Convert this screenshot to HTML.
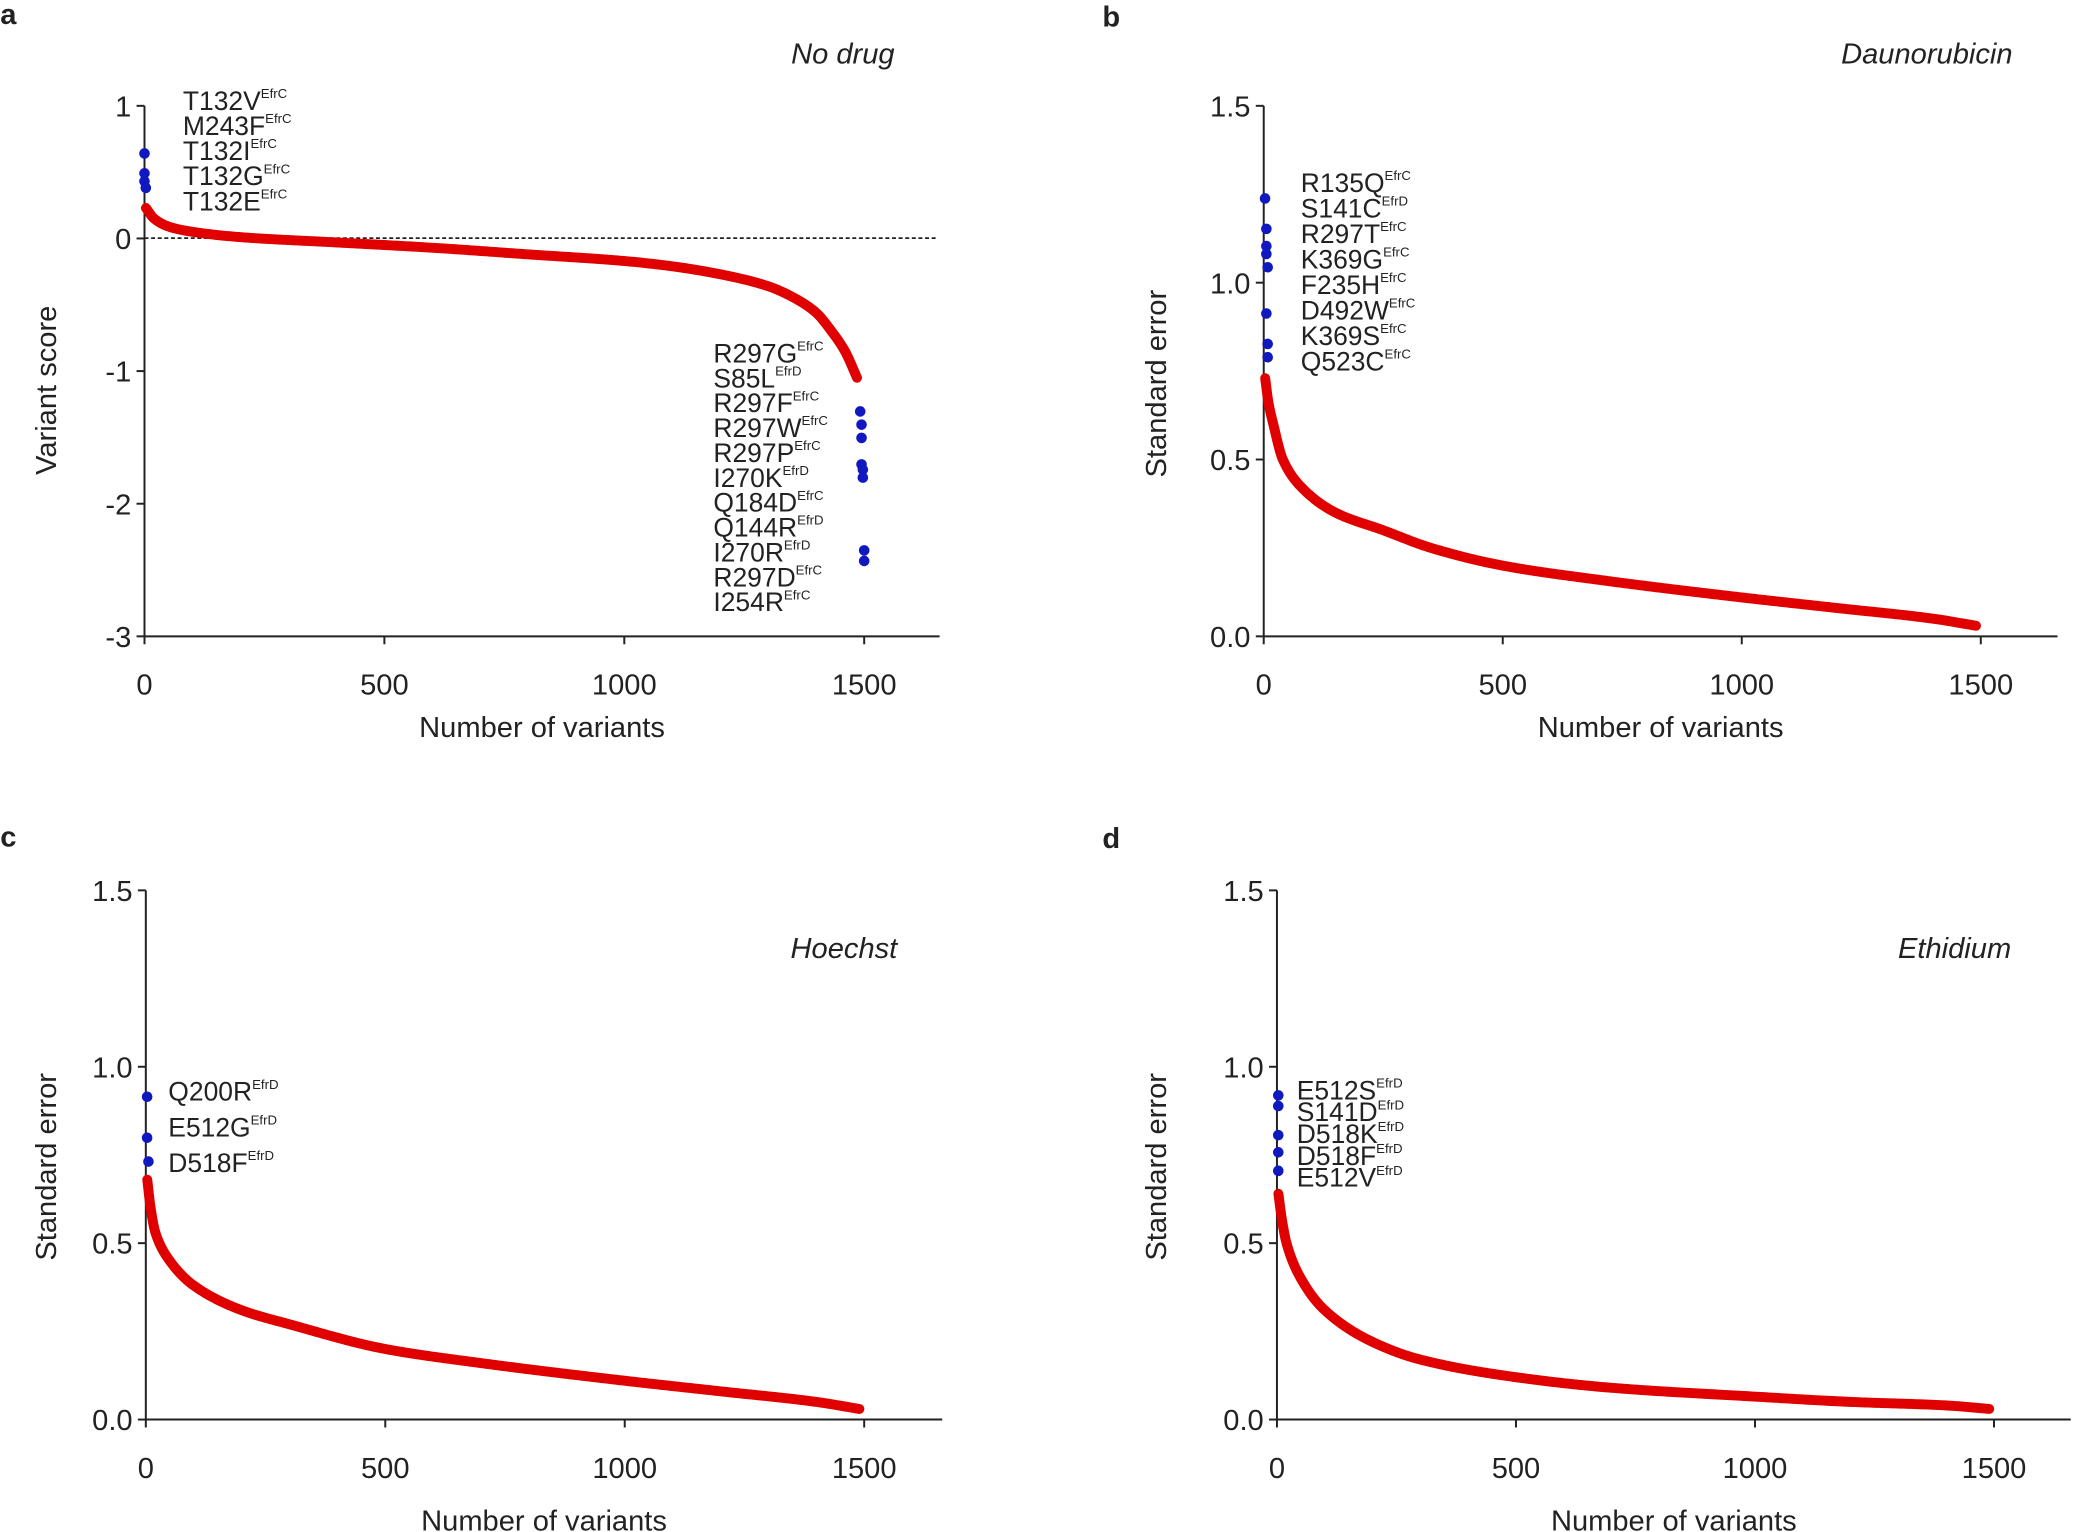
<!DOCTYPE html>
<html><head><meta charset="utf-8"><style>
html,body{margin:0;padding:0;background:#fff}
svg{display:block}
text{font-family:"Liberation Sans",Arial,sans-serif;fill:#222}
.t{font-size:22px}.l{font-size:20px}.s{font-size:10px}
.ti{font-size:22px;font-style:italic}
.p{font-size:22px;font-weight:bold}
</style></head><body>
<svg id="s" width="2075" height="1532" viewBox="0 0 1568 1158" xmlns="http://www.w3.org/2000/svg">
<text class="p" x="0" y="18">a</text>
<text class="p" x="833" y="20">b</text>
<text class="p" x="0" y="640">c</text>
<text class="p" x="833" y="641">d</text>
<text class="ti" x="676" y="48" text-anchor="end">No drug</text>
<text class="ti" x="1521" y="48" text-anchor="end">Daunorubicin</text>
<text class="ti" x="678" y="724" text-anchor="end">Hoechst</text>
<text class="ti" x="1520" y="724" text-anchor="end">Ethidium</text>
<line x1="109" y1="180" x2="708" y2="180" stroke="#222" stroke-width="1.3" stroke-dasharray="3,2"/>
<g id="g"></g>
</svg>
<script>
const NS="http://www.w3.org/2000/svg",g=document.getElementById('g');
function el(t,a,txt){const e=document.createElementNS(NS,t);for(const k in a)e.setAttribute(k,a[k]);if(txt!==undefined)e.textContent=txt;g.appendChild(e);return e;}
function mono(c){const n=c.length,xs=c.map(p=>p[0]),ys=c.map(p=>p[1]);const d=[],m=[];
 for(let i=0;i<n-1;i++)d.push((ys[i+1]-ys[i])/(xs[i+1]-xs[i]));
 m[0]=d[0];m[n-1]=d[n-2];
 for(let i=1;i<n-1;i++){if(d[i-1]*d[i]<=0)m[i]=0;else{const w1=2*(xs[i+1]-xs[i])+(xs[i]-xs[i-1]),w2=(xs[i+1]-xs[i])+2*(xs[i]-xs[i-1]);m[i]=(w1+w2)/(w1/d[i-1]+w2/d[i]);}}
 return x=>{let i=0;while(i<n-2&&x>xs[i+1])i++;const h=xs[i+1]-xs[i],t=(x-xs[i])/h;
  const h00=2*t*t*t-3*t*t+1,h10=t*t*t-2*t*t+t,h01=-2*t*t*t+3*t*t,h11=t*t*t-t*t;
  return h00*ys[i]+h10*h*m[i]+h01*ys[i+1]+h11*h*m[i+1];};}
function panel(P){
 const X=i=>P.x0+(P.x15-P.x0)*i/1500, Y=v=>P.yb+(P.yt-P.yb)*(v-P.vmin)/(P.vmax-P.vmin);
 el('line',{x1:P.x0,y1:P.yt,x2:P.x0,y2:P.yb,stroke:'#222','stroke-width':1.5});
 el('line',{x1:P.x0,y1:P.yb,x2:P.xe,y2:P.yb,stroke:'#222','stroke-width':1.5});
 P.yt_.forEach(v=>{const y=Y(v);el('line',{x1:P.x0-6,y1:y,x2:P.x0,y2:y,stroke:'#222','stroke-width':1.5});
  el('text',{class:'t',x:P.x0-10,y:y+8,'text-anchor':'end'},P.fmt(v));});
 [0,500,1000,1500].forEach(i=>{const x=X(i);el('line',{x1:x,y1:P.yb,x2:x,y2:P.yb+6,stroke:'#222','stroke-width':1.5});
  el('text',{class:'t',x:x,y:P.yb+44,'text-anchor':'middle'},String(i));});
 el('text',{class:'t',x:(P.x0+P.xe)/2,y:P.xty,'text-anchor':'middle'},'Number of variants');
 el('text',{class:'t',x:0,y:0,'text-anchor':'middle',transform:`translate(${P.ytx},${P.yty}) rotate(-90)`},P.ylab);
 const c=P.curve,f=mono(c),a=c[0][0],b=c[c.length-1][0];let pts=[];
 for(let s=0;s<=400;s++){const i=a+(b-a)*Math.pow(s/400,1.6);pts.push(X(i).toFixed(2)+','+Y(f(i)).toFixed(2));}
 el('polyline',{points:pts.join(' '),fill:'none',stroke:'#e00000','stroke-width':7.5,'stroke-linecap':'round','stroke-linejoin':'round'});
 P.blue.forEach(([x,y])=>el('circle',{cx:x,cy:y,r:4,fill:'#1018c0'}));
 P.labs.forEach(L=>{L.n.forEach((n,k)=>{const t=el('text',{class:'l',x:L.x,y:L.y+k*L.d});
   const a=document.createElementNS(NS,'tspan');a.textContent=n[0];t.appendChild(a);
   const b=document.createElementNS(NS,'tspan');b.setAttribute('class','s');b.setAttribute('dy','-9');b.textContent=n[1];t.appendChild(b);});});
}
const se=v=>v.toFixed(1);
panel({x0:109,x15:653,xe:710,yt:80,yb:481,vmin:-3,vmax:1,yt_:[1,0,-1,-2,-3],fmt:v=>String(v),xty:557,ytx:42,yty:295,ylab:'Variant score',
 curve:[[3,0.23],[20,0.15],[50,0.09],[100,0.05],[200,0.01],[400,-0.03],[600,-0.07],[800,-0.12],[1000,-0.17],[1100,-0.21],[1200,-0.27],[1300,-0.36],[1350,-0.44],[1400,-0.56],[1430,-0.69],[1460,-0.85],[1485,-1.05]],
 blue:[[109,116],[109,131],[109,137],[110,142],[650,311],[651,321],[651,331],[651,351],[652,355],[652,361],[653,416],[653,424]],
 labs:[{x:138,y:83,d:19,n:[['T132V','EfrC'],['M243F','EfrC'],['T132I','EfrC'],['T132G','EfrC'],['T132E','EfrC']]},
  {x:539,y:274,d:18.8,n:[['R297G','EfrC'],['S85L','EfrD'],['R297F','EfrC'],['R297W','EfrC'],['R297P','EfrC'],['I270K','EfrD'],['Q184D','EfrC'],['Q144R','EfrD'],['I270R','EfrD'],['R297D','EfrC'],['I254R','EfrC']]}]});
panel({x0:955,x15:1497,xe:1555,yt:80,yb:481,vmin:0,vmax:1.5,yt_:[1.5,1,0.5,0],fmt:se,xty:557,ytx:881,yty:290,ylab:'Standard error',
 curve:[[3,0.73],[10,0.66],[20,0.6],[40,0.5],[80,0.42],[150,0.35],[250,0.3],[350,0.25],[500,0.2],[700,0.16],[1000,0.11],[1200,0.08],[1400,0.05],[1490,0.03]],
 blue:[[956,150],[957,173],[957,186],[957,192],[958,202],[957,237],[958,260],[958,270]],
 labs:[{x:983,y:145,d:19.3,n:[['R135Q','EfrC'],['S141C','EfrD'],['R297T','EfrC'],['K369G','EfrC'],['F235H','EfrC'],['D492W','EfrC'],['K369S','EfrC'],['Q523C','EfrC']]}]});
panel({x0:110,x15:653,xe:712,yt:673,yb:1073,vmin:0,vmax:1.5,yt_:[1.5,1,0.5,0],fmt:se,xty:1157,ytx:42,yty:882,ylab:'Standard error',
 curve:[[3,0.68],[10,0.6],[20,0.53],[50,0.45],[100,0.38],[200,0.31],[300,0.27],[500,0.2],[700,0.16],[1000,0.11],[1200,0.08],[1400,0.05],[1490,0.03]],
 blue:[[111,829],[111,860],[112,878]],
 labs:[{x:127,y:832,d:27,n:[['Q200R','EfrD'],['E512G','EfrD'],['D518F','EfrD']]}]});
panel({x0:965,x15:1507,xe:1565,yt:673,yb:1073,vmin:0,vmax:1.5,yt_:[1.5,1,0.5,0],fmt:se,xty:1157,ytx:881,yty:882,ylab:'Standard error',
 curve:[[3,0.64],[10,0.57],[20,0.5],[50,0.4],[100,0.31],[200,0.22],[300,0.17],[500,0.12],[700,0.09],[1000,0.065],[1200,0.05],[1400,0.04],[1490,0.03]],
 blue:[[966,828],[966,836],[966,858],[966,871],[966,885]],
 labs:[{x:980,y:831,d:16.5,n:[['E512S','EfrD'],['S141D','EfrD'],['D518K','EfrD'],['D518F','EfrD'],['E512V','EfrD']]}]});
</script>
</body></html>
